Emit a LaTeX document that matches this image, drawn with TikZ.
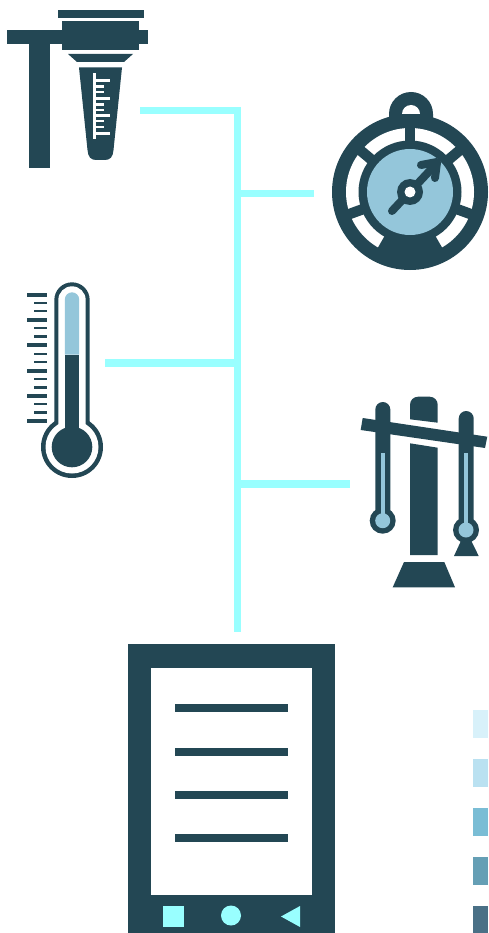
\documentclass[tikz,border=0pt]{standalone}
\definecolor{dk}{HTML}{234754}
\definecolor{lt}{HTML}{94C6DA}
\definecolor{cy}{HTML}{99FFFF}
\definecolor{s1}{HTML}{D8F1FA}
\definecolor{s2}{HTML}{BAE1F1}
\definecolor{s3}{HTML}{7ABDD5}
\definecolor{s4}{HTML}{659FB5}
\definecolor{s5}{HTML}{4A7086}
\tikzset{
  dark/.style={fill=dk,draw=none},
  light/.style={fill=lt,draw=none},
  blank/.style={fill=white,draw=none},
  wire/.style={draw=cy,line width=7.5pt},
  bar/.style={draw=dk,line width=#1},
  needle/.style={draw=dk,line width=8pt,line cap=round,line join=round},
}
\begin{document}
\begin{tikzpicture}[x=1pt,y=-1pt]
\useasboundingbox (0,0) rectangle (488,933);
% connectors
\coordinate (trunkT) at (237.5,107);
\coordinate (trunkB) at (237.5,632);
\coordinate (j1) at (237.5,110.5);
\coordinate (j2) at (237.5,193.5);
\coordinate (j3) at (237.5,363);
\coordinate (j4) at (237.5,484);
\coordinate (a1) at (140,110.5);
\coordinate (a2) at (314,193.5);
\coordinate (a3) at (105,363);
\coordinate (a4) at (350,484);
\draw[wire] (trunkT) -- (trunkB);
\draw[wire] (a1) -- (j1);
\draw[wire] (j2) -- (a2);
\draw[wire] (a3) -- (j3);
\draw[wire] (j4) -- (a4);
% funnel on stand
\fill[dark] (7,30) rectangle (148,44);
\fill[dark] (29,30) rectangle (50,168);
\fill[dark] (58,10) rectangle (144,18);
\fill[dark] (62,21) rectangle (139,50);
\fill[dark] (68,54) -- (133,54) -- (124,62) -- (77,62) -- cycle;
\fill[dark] (79,67.5) -- (122,67.5) -- (113.5,150)
  .. controls (113,157) and (110,160) .. (105,160) -- (96,160)
  .. controls (91,160) and (88,157) .. (87.5,150) -- cycle;
\fill[blank] (93,73) rectangle (96,139);
\foreach \y/\e in {80.5/110,86.5/104,92/104,98.5/110,104.5/104,110/104,115.5/110,121/104,127/104,133.5/110}
  \fill[blank] (96,\y-1.3) rectangle (\e,\y+1.3);
% compass
\fill[dark] (389,114) arc[start angle=180,end angle=360,radius=22] -- (433,125) -- (389,125) -- cycle;
\fill[blank] (402,114) arc[start angle=180,end angle=360,radius=9] -- cycle;
\fill[dark] (410,192) circle[radius=78];
\fill[blank] (410,192) circle[radius=64];
\foreach \a in {90,140,40,200,340}
  \draw[bar=10.5pt] (410,192) -- ++(\a:-66);
\fill[dark] (410,192) -- ++(60:66) arc[start angle=60,end angle=120,radius=66] -- cycle;
\fill[dark] (410,192) circle[radius=51.5];
\fill[light] (410,192) circle[radius=43];
\draw[needle] (392,211) -- (437,163);
\draw[needle] (421,165) -- (437,162) -- (435,178);
\fill[dark] (410,192) circle[radius=13];
\fill[blank] (410,192) circle[radius=5.5];
% thermometer
\fill[dark] (54.3,430) -- (54.3,300) arc[start angle=180,end angle=360,radius=17.7] -- (89.7,430) -- cycle;
\fill[dark] (72,447) circle[radius=31];
\fill[blank] (58.3,430) -- (58.3,300) arc[start angle=180,end angle=360,radius=13.7] -- (85.7,430) -- cycle;
\fill[blank] (72,447) circle[radius=26.5];
\fill[light] (64.8,354.5) -- (64.8,299.5) arc[start angle=180,end angle=360,radius=7.2] -- (79.2,354.5) -- cycle;
\fill[dark] (64.8,354.5) rectangle (79.2,435);
\fill[dark] (72,447) circle[radius=20.3];
\foreach \y in {295,320,345,370.7,396,420.7}
  \fill[dark] (27,\y-2) rectangle (47,\y+2);
\foreach \y in {303,311,328,336.5,354,362,379,387.5,404,412.5}
  \fill[dark] (34,\y-1.2) rectangle (47,\y+1.2);
% pendulum instrument
\fill[dark] (410,419.3) -- (410,404.7) arc[start angle=180,end angle=270,radius=8] -- (429.7,396.7) arc[start angle=270,end angle=360,radius=8] -- (437.7,422.7) -- cycle;
\fill[dark] (410,443.3) -- (437.7,447.7) -- (437.7,555) -- (410,555) -- cycle;
\fill[dark] (404,562) -- (444.3,562) -- (455,587.3) -- (392.7,587.3) -- cycle;
\fill[dark] (375.3,520) -- (375.3,409.5) arc[start angle=180,end angle=360,radius=7.5] -- (390.3,520) -- cycle;
\fill[dark] (458.7,530) -- (458.7,418.5) arc[start angle=180,end angle=360,radius=7.5] -- (473.7,530) -- cycle;
\fill[dark] (362.7,418) -- (487.3,436.7) -- (485,448) -- (360.7,430) -- cycle;
\fill[dark] (382.7,520.7) circle[radius=13];
\fill[dark] (466,530) -- (478.7,556) -- (454,556) -- cycle;
\fill[dark] (466,530) circle[radius=13];
\fill[light] (380.7,452.7) rectangle (384.7,520);
\fill[light] (464,452.7) rectangle (468,530);
\fill[light] (382.7,520.7) circle[radius=7.5];
\fill[light] (466,530) circle[radius=7.5];
% tablet
\fill[dark] (128,644) rectangle (335,933);
\fill[blank] (151,668) rectangle (312,895);
\foreach \y in {708.3,751.5,795,838.3}
  \fill[dark] (174.5,\y-4) rectangle (288,\y+4);
\fill[cy] (163,906) rectangle (184,927);
\fill[cy] (231,915.5) circle[radius=10];
\fill[cy] (281,916.5) -- (300,906) -- (300,927) -- cycle;
% legend
\fill[s1] (473,710) rectangle (488,738);
\fill[s2] (473,759) rectangle (488,787);
\fill[s3] (473,808) rectangle (488,836);
\fill[s4] (473,857) rectangle (488,885);
\fill[s5] (473,906) rectangle (488,933);
\end{tikzpicture}
\end{document}
